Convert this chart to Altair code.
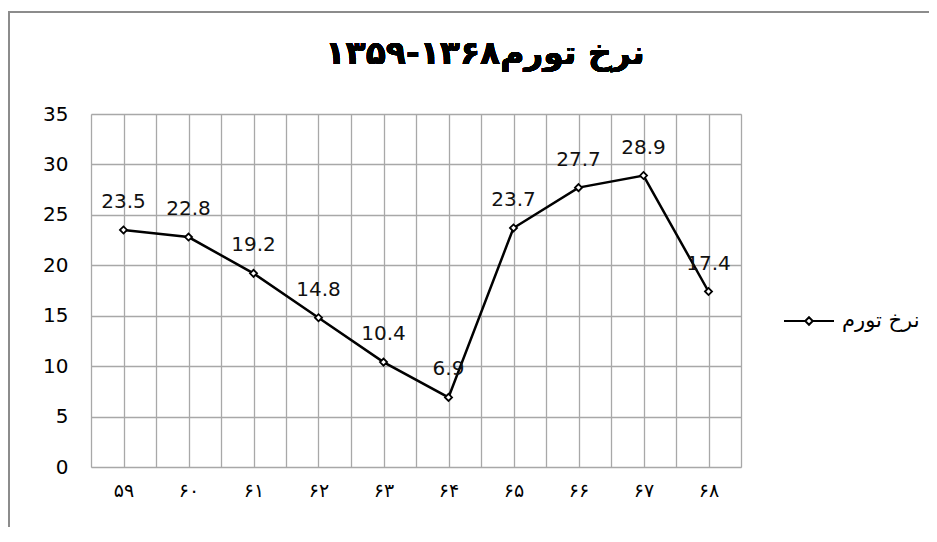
import json
import altair as alt
import pandas as pd

# ---- data ----
years = ["۵۹", "۶۰", "۶۱", "۶۲", "۶۳", "۶۴", "۶۵", "۶۶", "۶۷", "۶۸"]
inflation = [23.5, 22.8, 19.2, 14.8, 10.4, 6.9, 23.7, 27.7, 28.9, 17.4]
series_name = "نرخ تورم"
title_text = "نرخ تورم۱۳۶۸-۱۳۵۹"
y_ticks = [0, 5, 10, 15, 20, 25, 30, 35]

df = pd.DataFrame({
    "idx": list(range(len(years))),
    "year": years,
    "value": inflation,
    "series": [series_name] * len(years),
})

grid_vals = [i / 2 - 0.5 for i in range(2 * len(years) + 1)]
label_expr = ("datum.value % 1 == 0 ? " + json.dumps(years, ensure_ascii=False)
              + "[datum.value] : ''")

GRID = "#a8a8a8"
FONT_NUM = "DejaVu Sans"

x_enc = alt.X(
    "idx:Q",
    scale=alt.Scale(domain=[-0.5, len(years) - 0.5], nice=False, zero=False),
    axis=alt.Axis(values=grid_vals, labelExpr=label_expr, title=None, ticks=False,
                  domain=False, grid=True, gridColor=GRID, gridWidth=1.3,
                  labelFont="DejaVu Sans", labelFontSize=19, labelColor="black",
                  labelPadding=14, labelOverlap=False, labelFlush=False),
)
y_enc = alt.Y(
    "value:Q",
    scale=alt.Scale(domain=[0, 35], nice=False),
    axis=alt.Axis(values=y_ticks, title=None, ticks=False, domain=False, grid=True,
                  gridColor=GRID, gridWidth=1.3, labelFont=FONT_NUM, labelFontSize=20,
                  labelColor="black", labelPadding=23),
)

base = alt.Chart(df)

legend_path = "M-1,0H-0.15M0.15,0H1M0,-0.15L0.15,0L0,0.15L-0.15,0Z"

line = base.mark_line(strokeWidth=2.5).encode(
    x=x_enc, y=y_enc,
    color=alt.Color("series:N", scale=alt.Scale(range=["black"]),
                    legend=alt.Legend(title=None, orient="none", legendX=692, legendY=181,
                                      symbolType=legend_path, symbolSize=2500,
                                      symbolStrokeWidth=2, symbolFillColor="white",
                                      labelFont="DejaVu Sans", labelFontSize=21,
                                      labelColor="black", labelOffset=7, padding=0,
                                      labelLimit=300)),
)

points = base.mark_point(shape="diamond", fill="white", stroke="black",
                         strokeWidth=1.8, size=50, opacity=1).encode(x=x_enc, y=y_enc)

labels = base.mark_text(dy=-28, font=FONT_NUM, fontSize=20, color="#111").encode(
    x=x_enc, y=y_enc, text=alt.Text("value:Q", format=".1f"))

frame = base.mark_rect(fillOpacity=0, stroke="#8c8c8c", strokeWidth=2).encode(
    x=alt.value(-82), x2=alt.value(900), y=alt.value(-102), y2=alt.value(460))

title = base.mark_text(text=title_text, font="DejaVu Sans", fontSize=33,
                       fontWeight="bold", align="center", baseline="alphabetic",
                       color="black").encode(x=alt.value(394), y=alt.value(-50))

chart = alt.layer(frame, line, points, labels, title).properties(
    width=650,
    height=353,
    autosize=alt.AutoSizeParams(type="none"),
    padding={"left": 83, "top": 106, "right": 188, "bottom": 60},
).configure_view(stroke="#999999", strokeWidth=1.3).configure(background="white")

chart.save("out.html", embed_options={"renderer": "svg", "actions": False})
